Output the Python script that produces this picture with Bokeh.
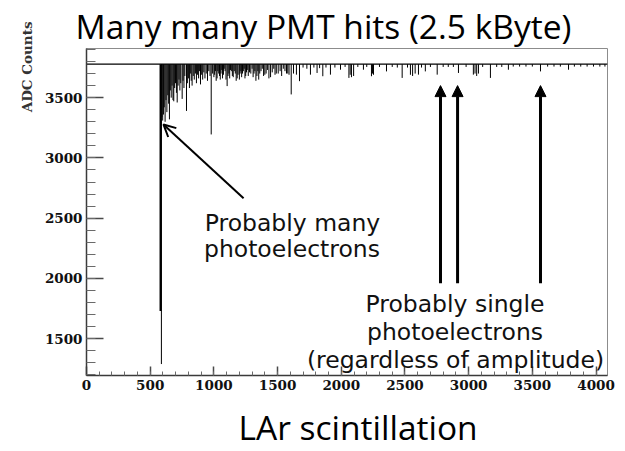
from bokeh.plotting import figure
from bokeh.models import (Range1d, SingleIntervalTicker, Label, Arrow, Title,
                          NormalHead, OpenHead, ColumnDataSource)
from bokeh.embed import file_html
from bokeh.resources import INLINE

# ---- waveform data (ADC counts vs. sample number) ----
record_length = 4090          # samples in the readout window
baseline_adc = 3778           # pedestal level

# leading edge of the prompt pulse
edge_sample = [582, 588]
edge_adc = [1730, 1290]

# individual hits: sample index and minimum ADC value reached
hit_sample = [
    592, 598, 604, 610, 617, 624, 631, 638, 645, 651, 658, 665, 672, 679, 685,
    692, 699, 706, 712, 719, 726, 733, 740, 751, 758, 765, 772, 785, 792, 800,
    808, 815, 822, 829, 838, 846, 855, 863, 872, 880, 888, 895, 904, 912, 921,
    930, 940, 950, 960, 970, 979, 990, 1000, 1012, 1025, 1038, 1050, 1062, 1075,
    1088, 1104, 1118, 1130, 1145, 1160, 1175, 1190, 1200, 1212, 1225, 1238, 1250,
    1262, 1280, 1300, 1315, 1330, 1345, 1360, 1380, 1400, 1420, 1445, 1470, 1490,
    1520, 1545, 1570, 1590, 1607, 1625, 1648, 1672, 1700, 1730, 1758, 1785, 1810,
    1830, 1855, 1880, 1915, 1950, 1994, 2030, 2060, 2070, 2080, 2097, 2130, 2174,
    2200, 2237, 2245, 2253, 2300, 2355, 2400, 2440, 2478, 2520, 2543, 2560, 2580,
    2606, 2630, 2660, 2700, 2753, 2800, 2840, 2880, 2920, 2980, 3037, 3050, 3063,
    3077, 3110, 3171, 3220, 3260, 3312, 3350, 3400, 3450, 3500, 3564, 3620, 3670,
    3720, 3784, 3830, 3880, 3930, 3980, 4030, 4070,
]
hit_adc = [
    3340, 3310, 3360, 3420, 3300, 3480, 3380, 3520, 3450, 3320, 3560, 3500, 3600, 3480, 3470,
    3580, 3620, 3540, 3460, 3600, 3650, 3560, 3620, 3490, 3640, 3580, 3680, 3390, 3620, 3660,
    3580, 3700, 3640, 3600, 3680, 3650, 3700, 3620, 3690, 3660, 3720, 3610, 3690, 3650, 3710,
    3660, 3700, 3640, 3720, 3680, 3195, 3700, 3670, 3720, 3660, 3700, 3650, 3730, 3690,
    3720, 3596, 3700, 3730, 3680, 3720, 3640, 3690, 3650, 3720, 3700, 3740, 3680,
    3730, 3710, 3740, 3700, 3640, 3720, 3700, 3740, 3690, 3730, 3670, 3740, 3700,
    3720, 3740, 3700, 3690, 3527, 3700, 3691, 3637, 3750, 3740, 3691, 3750, 3705,
    3745, 3678, 3750, 3691, 3750, 3732, 3755, 3664, 3690, 3670, 3680, 3755, 3732,
    3755, 3678, 3700, 3690, 3755, 3718, 3755, 3750, 3664, 3750, 3690, 3680, 3700,
    3691, 3750, 3718, 3755, 3691, 3755, 3755, 3755, 3705, 3755, 3691, 3700, 3680,
    3700, 3755, 3664, 3755, 3755, 3732, 3758, 3758, 3758, 3758, 3718, 3758, 3758,
    3758, 3732, 3758, 3758, 3758, 3758, 3758, 3758,
]

# further hits in the slow component of the pulse
tail_sample = [
    1006, 1018, 1031, 1044, 1056, 1068, 1081, 1095, 1111, 1124, 1137, 1152,
    1168, 1183, 1206, 1218, 1231, 1244, 1256, 1270, 1290, 1308, 1322, 1338,
    1352, 1370, 1390, 1410, 1432, 1458, 1480, 1505, 1532, 1558, 1580,
]
tail_adc = [
    3690, 3640, 3720, 3680, 3700, 3660, 3740, 3650, 3680, 3660, 3720, 3670,
    3700, 3660, 3700, 3670, 3720, 3660, 3710, 3680, 3700, 3670, 3720, 3680,
    3650, 3720, 3680, 3700, 3660, 3710, 3690, 3700, 3680, 3720, 3700,
]

x_ticks_step = 500
y_ticks_step = 500

# ---- figure ----
p = figure(width=625, height=451, title=None,
           x_range=Range1d(0, record_length), y_range=Range1d(1195, 3908),
           output_backend="svg", toolbar_location=None,
           min_border_left=86, min_border_right=18,
           min_border_top=45, min_border_bottom=74)

p.background_fill_color = "white"
p.border_fill_color = "white"
p.outline_line_color = "#8c8c8c"
p.outline_line_width = 1
p.xgrid.visible = False
p.ygrid.visible = False

tick_font = "DejaVu Serif"

p.xaxis.ticker = SingleIntervalTicker(interval=x_ticks_step, num_minor_ticks=5)
p.yaxis.ticker = SingleIntervalTicker(interval=y_ticks_step, num_minor_ticks=5)

for ax in (p.xaxis[0], p.yaxis[0]):
    ax.axis_line_color = "#3a3a3a"
    ax.axis_line_width = 1.5
    ax.major_tick_line_color = "#4a4a4a"
    ax.minor_tick_line_color = "#6a6a6a"
    ax.major_tick_out = 0
    ax.minor_tick_out = 0
    ax.major_label_text_font = tick_font
    ax.major_label_text_font_style = "bold"
    ax.major_label_text_font_size = "13.5px"
    ax.major_label_text_color = "#111111"
    ax.major_label_standoff = 4

p.yaxis.major_tick_in = 17
p.yaxis.minor_tick_in = 9
p.yaxis.major_tick_line_width = 1.5
p.xaxis.major_tick_in = 9
p.xaxis.minor_tick_in = 4
p.xaxis.major_tick_line_width = 1.5

# a blank axis label keeps a little room between tick labels and caption
p.xaxis.axis_label = " "
p.xaxis.axis_label_text_font_size = "5px"
p.xaxis.axis_label_standoff = 2

# ---- trace ----
src = ColumnDataSource(dict(t=hit_sample + tail_sample, adc=hit_adc + tail_adc))
p.segment(x0="t", y0=baseline_adc, x1="t", y1="adc", source=src,
          line_color="black", line_width=1)

p.line([0, record_length], [baseline_adc, baseline_adc],
       line_color="black", line_width=1.2)

p.segment(x0=edge_sample, y0=[baseline_adc] * len(edge_sample),
          x1=edge_sample, y1=edge_adc,
          line_color="black", line_width=[2.2, 1])

# ---- annotations ----
ann_font = "DejaVu Sans"
ann_size = "23.5px"

def note(txt, x, y):
    p.add_layout(Label(x=x, y=y, text=txt, text_font=ann_font,
                       text_font_size=ann_size, text_color="#111111",
                       text_align="center", text_baseline="alphabetic"))

note("Probably many", 1617, 2462)
note("photoelectrons", 1613, 2247)
note("Probably single", 2893, 1789)
note("photoelectrons", 2893, 1552)
note("(regardless of amplitude)", 2897, 1323)

p.add_layout(Arrow(end=OpenHead(size=12, line_width=2, line_color="black"),
                   x_start=1233, y_start=2665, x_end=604, y_end=3278,
                   line_width=2, line_color="black"))

for xa in (2779, 2913, 3564):
    p.add_layout(Arrow(end=NormalHead(size=11, fill_color="black",
                                      line_color="black", line_width=1),
                       x_start=xa, y_start=1961, x_end=xa, y_end=3600,
                       line_width=3, line_color="black"))

# titles around the frame
title_font = "Open Sans"
p.add_layout(Title(text="Many many PMT hits (2.5 kByte)", align="left",
                   offset=-11, standoff=0, vertical_align="bottom",
                   text_font=title_font, text_font_size="33.5px",
                   text_font_style="normal", text_color="black"), "above")
p.add_layout(Title(text="LAr scintillation", align="left",
                   offset=152, standoff=0, vertical_align="top",
                   text_font=title_font, text_font_size="33.5px",
                   text_font_style="normal", text_color="black"), "below")
p.add_layout(Title(text="ADC Counts", align="right", offset=-27,
                   standoff=9, vertical_align="top",
                   text_font=tick_font, text_font_size="13.5px",
                   text_font_style="bold", text_color="#333333"), "left")

open("out.html", "w").write(file_html(p, INLINE))
